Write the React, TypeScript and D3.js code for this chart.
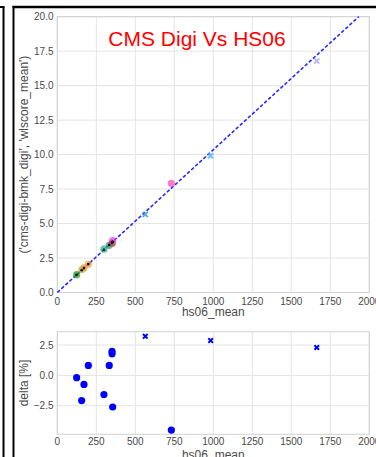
import * as d3 from "d3";

// hs06_mean per machine
const HS06 = [124, 199, 171, 156, 299, 333, 351, 351, 355, 731, 564, 983, 1663];
// ('cms-digi-bmk_digi', 'wlscore_mean')
const SCORE = [1.29, 2.04, 1.78, 1.65, 3.14, 3.42, 3.56, 3.57, 3.77, 7.92, 5.65, 9.92, 16.79];
// delta [%]
const DELTA = [-0.19, 0.82, -0.74, -2.07, -1.58, 0.82, 1.99, 1.78, -2.6, -4.5, 3.22, 2.87, 2.3];
const MARKER = ["o", "o", "o", "o", "o", "o", "o", "o", "o", "o", "x", "x", "x"];
const COLORS = [
  "#1f9e2a", "#e8a040", "#f0902f", "#c8b040", "#20b090", "#30a070", "#50c0a0",
  "#d04040", "#e040e0", "#ff50b0", "#30a0c0", "#40b0ff", "#b0a0f0",
];
const FIT_SLOPE = 0.01035;

const X_TICKS = [0, 250, 500, 750, 1000, 1250, 1500, 1750, 2000];
const Y_TICKS = [0, 2.5, 5, 7.5, 10, 12.5, 15, 17.5, 20];
const D_TICKS = [-2.5, 0, 2.5];

const W = 376;
const H = 457;
const FONT = "'Liberation Sans', Arial, sans-serif";
const GRID = "#e4e4e4";
const TICK = "#4a4a4a";

export default function App() {
  const x = d3.scaleLinear().domain([0, 2000]).range([57.3, 369.3]);
  const y = d3.scaleLinear().domain([0, 20]).range([292.5, 16.7]);
  const yd = d3.scaleLinear().domain([-4.85, 3.6]).range([434.3, 331.7]);

  // fitted line, clipped where it leaves the top of the axes
  const fitEnd = 20 / FIT_SLOPE;
  const fit = d3.line<number>().x((d) => x(d)).y((d) => y(d * FIT_SLOPE))([0, fitEnd]);

  const cross = (cx: number, cy: number, s: number, color: string, sw: number, key: string, op = 1) => (
    <g key={key} stroke={color} strokeWidth={sw} opacity={op}>
      <line x1={cx - s} y1={cy - s} x2={cx + s} y2={cy + s} />
      <line x1={cx - s} y1={cy + s} x2={cx + s} y2={cy - s} />
    </g>
  );

  const xr = x.range();
  const yr = y.range();
  const ydr = yd.range();

  return (
    <svg width={W} height={H} style={{ position: "absolute", left: 0, top: 0, background: "#fff" }} fontFamily={FONT}>
      {/* frame pieces */}
      <line x1={0} y1={7} x2={4.5} y2={7} stroke="#000" strokeWidth={2} />
      <line x1={3.5} y1={7} x2={3.5} y2={H} stroke="#000" strokeWidth={2} />
      <line x1={12.5} y1={7} x2={W} y2={7} stroke="#000" strokeWidth={2.5} />
      <line x1={13.5} y1={6} x2={13.5} y2={H} stroke="#000" strokeWidth={2} />

      {/* top plot */}
      <g>
        {X_TICKS.map((t) => (
          <line key={"gx" + t} x1={x(t)} x2={x(t)} y1={yr[1]} y2={yr[0]} stroke={GRID} strokeWidth={1} />
        ))}
        {Y_TICKS.map((t) => (
          <line key={"gy" + t} x1={xr[0]} x2={xr[1]} y1={y(t)} y2={y(t)} stroke={GRID} strokeWidth={1} />
        ))}
        <rect x={xr[0]} y={yr[1]} width={xr[1] - xr[0]} height={yr[0] - yr[1]} fill="none" stroke="#d0d0d0" strokeWidth={1} />
        <path d={fit ?? ""} fill="none" stroke="#2a2aff" strokeWidth={1.6} strokeDasharray="3.5,2" />
        {HS06.map((h, i) =>
          MARKER[i] === "o" ? (
            <circle key={"p" + i} cx={x(h)} cy={y(SCORE[i])} r={3.6} fill={COLORS[i]} opacity={0.75} />
          ) : (
            cross(x(h), y(SCORE[i]), 2.6, COLORS[i], 1.8, "px" + i, 0.8)
          )
        )}
        {HS06.filter((h) => h < 400).map((h, i) => (
          <circle key={"b" + i} cx={x(h)} cy={y(h * FIT_SLOPE)} r={1.3} fill="#000" />
        ))}
        {X_TICKS.map((t) => (
          <text key={"tx" + t} x={x(t)} y={304.5} fontSize={10} fill={TICK} textAnchor="middle">{t}</text>
        ))}
        {Y_TICKS.map((t) => (
          <text key={"ty" + t} x={53.5} y={y(t) + 3.6} fontSize={10} fill={TICK} textAnchor="end">{t.toFixed(1)}</text>
        ))}
        <text x={(xr[0] + xr[1]) / 2} y={316} fontSize={12} fill={TICK} textAnchor="middle">hs06_mean</text>
        <text transform={`translate(28,${(yr[0] + yr[1]) / 2}) rotate(-90)`} fontSize={12} fill={TICK} textAnchor="middle">
          ('cms-digi-bmk_digi', 'wlscore_mean')
        </text>
        <text x={197} y={46} fontSize={21} fill="#ff0000" textAnchor="middle">CMS Digi Vs HS06</text>
      </g>

      {/* delta plot */}
      <g>
        {X_TICKS.map((t) => (
          <line key={"dgx" + t} x1={x(t)} x2={x(t)} y1={ydr[1]} y2={ydr[0]} stroke={GRID} strokeWidth={1} />
        ))}
        {D_TICKS.map((t) => (
          <line key={"dgy" + t} x1={xr[0]} x2={xr[1]} y1={yd(t)} y2={yd(t)} stroke={GRID} strokeWidth={1} />
        ))}
        <rect x={xr[0]} y={ydr[1]} width={xr[1] - xr[0]} height={ydr[0] - ydr[1]} fill="none" stroke="#d0d0d0" strokeWidth={1} />
        {HS06.map((h, i) =>
          MARKER[i] === "o" ? (
            <circle key={"d" + i} cx={x(h)} cy={yd(DELTA[i])} r={3.6} fill="#0000ff" />
          ) : (
            cross(x(h), yd(DELTA[i]), 2.3, "#0000ff", 2, "dx" + i)
          )
        )}
        {X_TICKS.map((t) => (
          <text key={"dtx" + t} x={x(t)} y={445} fontSize={10} fill={TICK} textAnchor="middle">{t}</text>
        ))}
        {D_TICKS.map((t) => (
          <text key={"dty" + t} x={53.5} y={yd(t) + 3.6} fontSize={10} fill={TICK} textAnchor="end">
            {t < 0 ? "\u2212" + Math.abs(t).toFixed(1) : t.toFixed(1)}
          </text>
        ))}
        <text x={(xr[0] + xr[1]) / 2} y={458.5} fontSize={12} fill={TICK} textAnchor="middle">hs06_mean</text>
        <text transform={`translate(28,${(ydr[0] + ydr[1]) / 2}) rotate(-90)`} fontSize={12} fill={TICK} textAnchor="middle">
          delta [%]
        </text>
      </g>
    </svg>
  );
}
